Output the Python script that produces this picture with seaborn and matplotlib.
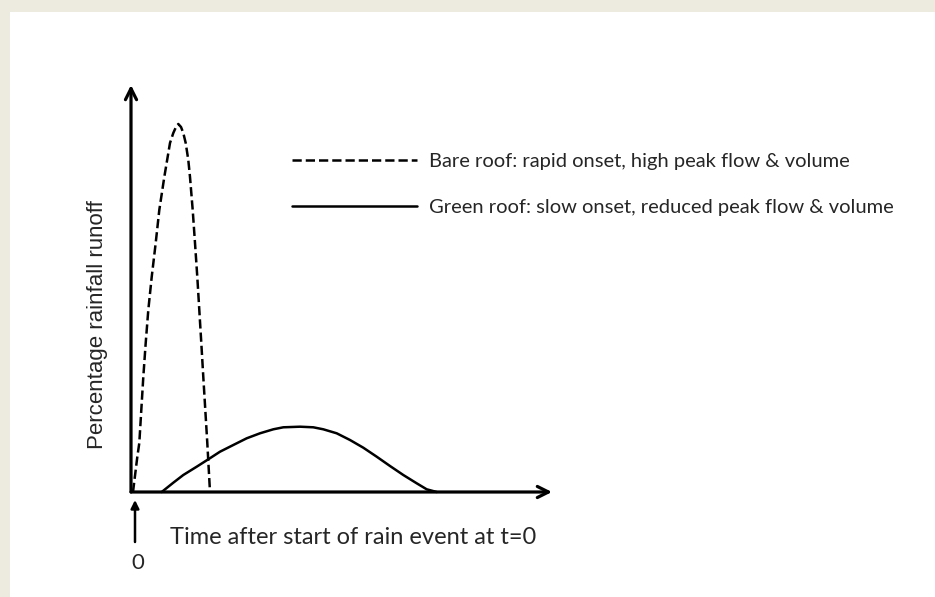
import matplotlib
matplotlib.use("Agg")
import matplotlib.pyplot as plt
from matplotlib.patches import Rectangle
import pandas as pd
import seaborn as sns

# time / runoff (arbitrary units)
bare_time = [0.2, 0.63, 0.83, 1.03, 1.23, 1.47, 1.73, 2.07, 2.47, 2.83, 3.33, 3.9, 4.23, 4.5, 4.73,
             5.0, 5.23, 5.47, 5.73, 5.9, 6.17, 6.4, 6.63, 6.83, 7.03, 7.23, 7.43, 7.63, 7.9]
bare_runoff = [0.0, 3.5, 4.9, 8.2, 11.5, 14.9, 18.2, 21.5, 24.9, 28.2, 31.5, 34.9, 35.9, 36.5, 36.8,
               36.5, 35.9, 34.9, 33.2, 31.5, 28.2, 24.9, 21.5, 18.2, 14.9, 11.5, 8.2, 4.9, 0.0]

green_time = [3.07, 4.23, 5.23, 6.57, 7.73, 8.9, 10.23, 11.57, 12.9, 14.23, 15.23, 16.9,
              18.23, 19.23, 20.57, 21.9, 23.23, 24.57, 25.9, 27.23, 28.57, 29.57, 30.57]
green_runoff = [0.0, 0.93, 1.7, 2.53, 3.27, 4.03, 4.7, 5.37, 5.87, 6.27, 6.47, 6.53,
                6.47, 6.27, 5.87, 5.2, 4.43, 3.53, 2.6, 1.7, 0.87, 0.27, 0.0]

x_max = 42.1
y_max = 40.7

bare_label = "Bare roof: rapid onset, high peak flow & volume"
green_label = "Green roof: slow onset, reduced peak flow & volume"
x_title = "Time after start of rain event at t=0"
y_title = "Percentage rainfall runoff"

sns.set_theme(style="white")
plt.rcParams["font.family"] = ["Lato", "DejaVu Sans"]

W, H = 935, 597
fig = plt.figure(figsize=(W / 100, H / 100), dpi=100)
fig.patch.set_facecolor("#edebe0")
fig.patches.append(
    Rectangle((10 / W, 0), 1, 1 - 12 / H, transform=fig.transFigure,
              facecolor="white", edgecolor="none", zorder=-1)
)

ax = fig.add_axes([131 / W, (H - 492) / H, 421 / W, 407 / H])
ax.set_xlim(0, x_max)
ax.set_ylim(0, y_max)
ax.axis("off")

bare = pd.DataFrame({"t": bare_time, "r": bare_runoff})
green = pd.DataFrame({"t": green_time, "r": green_runoff})

sns.lineplot(data=bare, x="t", y="r", sort=False, color="black", lw=1.8,
             linestyle="--", ax=ax, label=bare_label, legend=False, clip_on=False)
sns.lineplot(data=green, x="t", y="r", sort=False, color="black", lw=1.8,
             ax=ax, label=green_label, legend=False, clip_on=False)

arrow = dict(arrowstyle="->", lw=2.3, color="black", mutation_scale=20,
             shrinkA=0, shrinkB=0)
ax.annotate("", xy=(x_max, 0), xytext=(0, 0), arrowprops=arrow, annotation_clip=False)
ax.annotate("", xy=(0, y_max), xytext=(0, 0), arrowprops=arrow, annotation_clip=False)
ax.annotate("", xy=(0.4, -0.8), xytext=(0.4, -5.0), annotation_clip=False,
            arrowprops=dict(arrowstyle="-|>", lw=1.8, color="black",
                            mutation_scale=12, shrinkA=0, shrinkB=0))

ax.text(0.7, -7.1, "0", ha="center", va="center", fontsize=16, clip_on=False)
ax.text(3.9, -4.6, x_title, ha="left", va="center", fontsize=17, clip_on=False)
ax.text(-3.4, 16.7, y_title, ha="center", va="center", rotation=90,
        fontsize=16, family=["Liberation Sans"], clip_on=False)

fig.legend(
    handles=ax.get_lines(),
    labels=[l.get_label() for l in ax.get_lines()],
    loc="upper left",
    bbox_to_anchor=(292 / W, 1 - 153 / H),
    frameon=False,
    handlelength=6.2,
    handletextpad=0.6,
    labelspacing=1.45,
    borderpad=0,
    borderaxespad=0,
    fontsize=14.5,
)

fig.savefig("out.png", dpi=100, facecolor=fig.get_facecolor())
